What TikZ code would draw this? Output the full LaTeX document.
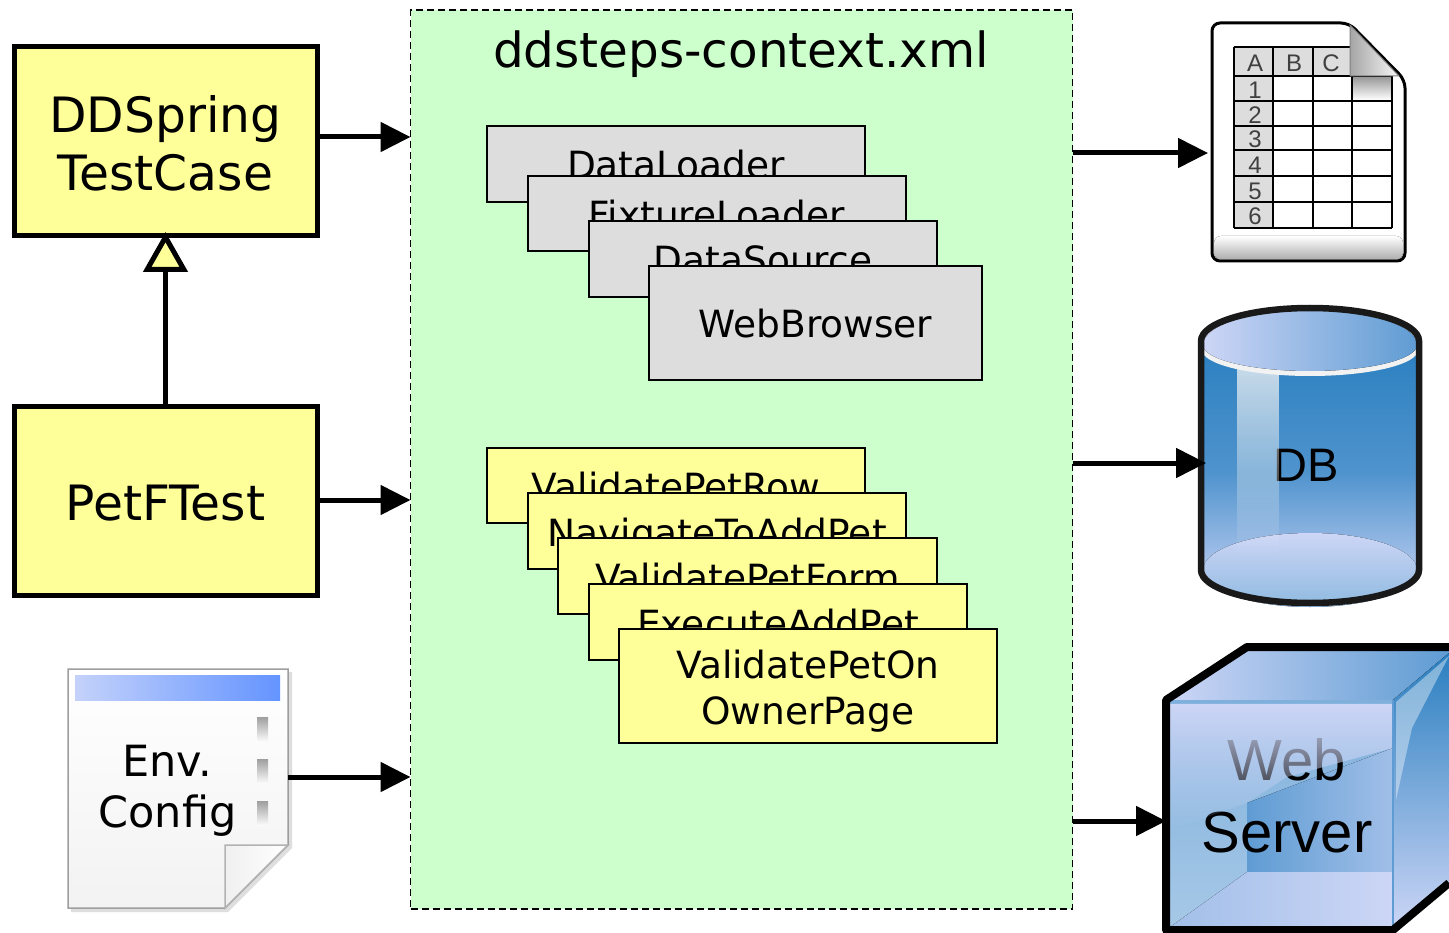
\documentclass[tikz,border=0pt]{standalone}
\usepackage{fontspec}
\setmainfont{DejaVu Sans}
\newfontfamily\iconfont{Liberation Sans}
\usetikzlibrary{arrows.meta,fadings}

\definecolor{contextGreen}{HTML}{CCFFCC}
\definecolor{classYellow}{HTML}{FFFF99}
\definecolor{beanGray}{HTML}{DDDDDD}
\definecolor{glassBlue}{HTML}{2A7FC0}
\definecolor{glassPale}{HTML}{CDD6F6}
\definecolor{glassMid}{HTML}{5F9CD3}
\definecolor{barLeft}{HTML}{C4D2FB}
\definecolor{barRight}{HTML}{6494FF}

\tikzset{
    classBox/.style = {draw, line width=5pt, fill=classYellow, outer sep=0pt, minimum width=303pt, minimum height=189pt, align=center, font=\fontsize{48.7}{58}\selectfont},
    stackBox/.style = {draw, line width=2pt, outer sep=0pt, align=center, font=\fontsize{37.5}{46}\selectfont},
    oneLine/.style = {text height=37pt, text depth=7pt},
    grayBean/.style = {stackBox, oneLine, fill=beanGray},
    stepBean/.style = {stackBox, oneLine, fill=classYellow},
    flow/.style = {line width=5pt, -{Triangle[length=30pt,width=29pt]}},
    inherit/.style = {line width=5pt, shorten >=-4pt, -{Triangle[length=40pt,width=44pt,fill=classYellow]}},
    cellLabel/.style = {inner sep=0pt, text=black!75, font=\iconfont\fontsize{24}{24}\selectfont},
    iconLabel/.style = {inner sep=0pt, font=\iconfont\fontsize{47}{47}\selectfont},
}

\begin{document}
\begin{tikzpicture}[x=1pt,y=-1pt]
    \useasboundingbox (0,0) rectangle (1449,933);
    \fill[white] (0,0) rectangle (1449,933);

    \node[draw, line width=1.8pt, dash pattern=on 7pt off 4pt, fill=contextGreen, minimum width=662pt, minimum height=899pt, outer sep=0pt] (context) at (741.5,459.5) {};
    \draw (741,54) node[font=\fontsize{48.4}{48}\selectfont] (contextTitle) {ddsteps-context.xml};

    \draw (165.5,141.5) node[classBox] (ddSpring) {\rule{0pt}{41pt}DDSpring\\TestCase};
    \draw (165.5,500.5) node[classBox] (petFTest) {\rule{0pt}{41pt}PetFTest};
    \draw[inherit] (petFTest.north) -- (ddSpring.south);

    \draw (676,164) node[grayBean, minimum width=378pt, minimum height=76pt] (dataLoader) {DataLoader};
    \draw (717,213.5) node[grayBean, minimum width=378pt, minimum height=75pt] (fixtureLoader) {FixtureLoader};
    \draw (763,259) node[grayBean, minimum width=348pt, minimum height=76pt] (dataSource) {DataSource};
    \draw (815.5,323) node[grayBean, minimum width=333pt, minimum height=114pt] (webBrowser) {WebBrowser};

    \draw (676,485.5) node[stepBean, minimum width=378pt, minimum height=75pt] (validatePetRow) {ValidatePetRow};
    \draw (717,531) node[stepBean, minimum width=378pt, minimum height=76pt] (navigateToAddPet) {NavigateToAddPet};
    \draw (747.5,576) node[stepBean, minimum width=379pt, minimum height=76pt] (validatePetForm) {ValidatePetForm};
    \draw (778,622) node[stepBean, minimum width=378pt, minimum height=76pt] (executeAddPet) {ExecuteAddPet};
    \draw (808,686) node[stackBox, fill=classYellow, minimum width=378pt, minimum height=114pt] (validatePetOn) {\rule{0pt}{39pt}ValidatePetOn\\OwnerPage};

    \fill[black!25, opacity=0.5] (71,672) -- (292,672) -- (292,848) -- (228,912) -- (71,912) -- cycle;
    \draw[line width=1.5pt, draw=black!38, top color=white, bottom color=black!5] (68,669) -- (288,669) -- (288,845) -- (225,908) -- (68,908) -- cycle;
    \fill[left color=barLeft, right color=barRight] (75,675) rectangle (280,700);
    \foreach \gripTop in {717,759,801}
        \fill[top color=black!38, bottom color=black!2] (257,\gripTop) rectangle (268,\gripTop+24);
    \draw[line width=1.5pt, draw=black!30, left color=black!6, right color=white] (225,845) -- (288,845) -- (225,908) -- cycle;
    \draw (167.500,791) node[inner sep=0pt, align=center, font=\fontsize{43}{51}\selectfont] (envConfig) {Env.\\Config};

    \draw[line width=3pt, fill=white, rounded corners=8pt] (1212,23) -- (1349,23) -- (1405,80) -- (1405,261) -- (1212,261) -- cycle;
    \fill[rounded corners=7pt, top color=white, bottom color=black!32] (1214,236) -- (1214,259.500) -- (1403,259.500) -- (1403,236) -- cycle;
    \fill[beanGray] (1234,47) rectangle (1352,76);
    \fill[beanGray] (1234,76) rectangle (1273,228);
    \fill[top color=black!40, bottom color=white] (1353,77) rectangle (1391,100);
    \foreach \rowY in {76,101,126,150,176,202,228}
        \draw[line width=2.2pt] (1234,\rowY) -- (1392,\rowY);
    \draw[line width=2.2pt] (1234,47) -- (1352,47);
    \foreach \colX in {1234,1273,1313,1352}
        \draw[line width=2.2pt] (\colX,47) -- (\colX,228);
    \draw[line width=2.2pt] (1392,76) -- (1392,228);
    \draw[line width=1pt, draw=black!50, left color=black!35, right color=black!3] (1350,25) -- (1350,76) -- (1399,76) -- cycle;
    \foreach \colLabel/\colX in {A/1255,B/1294,C/1331}
        \draw (\colX,63) node[cellLabel] (col\colLabel) {\colLabel};
    \foreach \rowLabel/\rowY in {1/90,2/115,3/139,4/165,5/191,6/216}
        \draw (1255,\rowY) node[cellLabel] (row\rowLabel) {\rowLabel};

    \fill[top color=glassBlue, bottom color=glassPale, middle color=glassMid!70!glassBlue] (1201,341) -- (1419,341) -- (1419,570) arc[start angle=0, end angle=180, x radius=109, y radius=33] -- cycle;
    \fill[top color=glassPale, bottom color=glassMid!70!white] (1310,570) circle[x radius=107, y radius=37];
    \draw (1306,465) node[iconLabel] (db) {DB};
    \fill[black!4, opacity=0.8, path fading=south] (1237,360) rectangle (1279,560);
    \fill[black!5] (1310,350) circle[x radius=108, y radius=26];
    \fill[left color=glassPale, right color=glassMid] (1203,345) arc[start angle=180, end angle=360, x radius=107, y radius=35] arc[start angle=0, end angle=180, x radius=107, y radius=26] -- cycle;
    \draw[line width=6.5pt, draw=black!90] (1201,341) arc[start angle=180, end angle=360, x radius=109, y radius=33] -- (1419,570) arc[start angle=0, end angle=180, x radius=109, y radius=33] -- cycle;

    \begin{scope}
        \clip (0,0) rectangle (1449,933);
        \fill[left color=glassPale, right color=glassMid] (1166,700) -- (1247,647) -- (1449,647) -- (1449,653) -- (1393,700) -- cycle;
        \fill[top color=glassBlue, bottom color=glassPale] (1393,700) -- (1449,653) -- (1449,883) -- (1393,930) -- cycle;
        \fill[white, opacity=0.4] (1396,702) -- (1449,656) -- (1412,728) -- (1396,800) -- cycle;
        \fill[top color=glassMid!80!white, bottom color=glassMid!55!white] (1166,700) rectangle (1393,930);
        \fill[left color=glassMid, right color=glassPale!60!glassMid] (1247,803) -- (1393,748) -- (1393,872) -- (1247,872) -- cycle;
        \fill[left color=glassMid!40!glassPale, right color=glassPale] (1166,930) -- (1247,872) -- (1393,872) -- (1393,930) -- cycle;
        \draw (1287,796) node[iconLabel, align=center, font=\iconfont\fontsize{58}{72}\selectfont] (webServer) {Web\\Server};
        \fill[glassPale, path fading=south] (1170,704) -- (1393,704) -- (1393,748) -- (1287,777) -- (1247,803) -- (1170,830) -- cycle;
        \draw[line width=1.5pt, draw=glassMid] (1393,700) -- (1393,930);
        \draw[line width=8pt, line join=round] (1449,647) -- (1247,647) -- (1166,700) -- (1166,930) -- (1393,930) -- (1449,883);
    \end{scope}

    \coordinate (inTest) at (context.west |- 0,137);
    \coordinate (inFTest) at (context.west |- 0,500);
    \coordinate (inEnv) at (context.west |- 0,777);
    \coordinate (outSheet) at (context.east |- 0,153);
    \coordinate (outDb) at (context.east |- 0,463);
    \coordinate (outWeb) at (context.east |- 0,821);
    \coordinate (sheetIn) at (1208,153);
    \coordinate (dbIn) at (1206,463);
    \coordinate (webIn) at (1166,821);
    \coordinate (envOut) at (288,777);

    \draw[flow] (ddSpring.east |- inTest) -- (inTest);
    \draw[flow] (petFTest.east |- inFTest) -- (inFTest);
    \draw[flow] (envOut) -- (inEnv);
    \draw[flow] (outSheet) -- (sheetIn);
    \draw[flow] (outDb) -- (dbIn);
    \draw[flow] (outWeb) -- (webIn);
\end{tikzpicture}
\end{document}
